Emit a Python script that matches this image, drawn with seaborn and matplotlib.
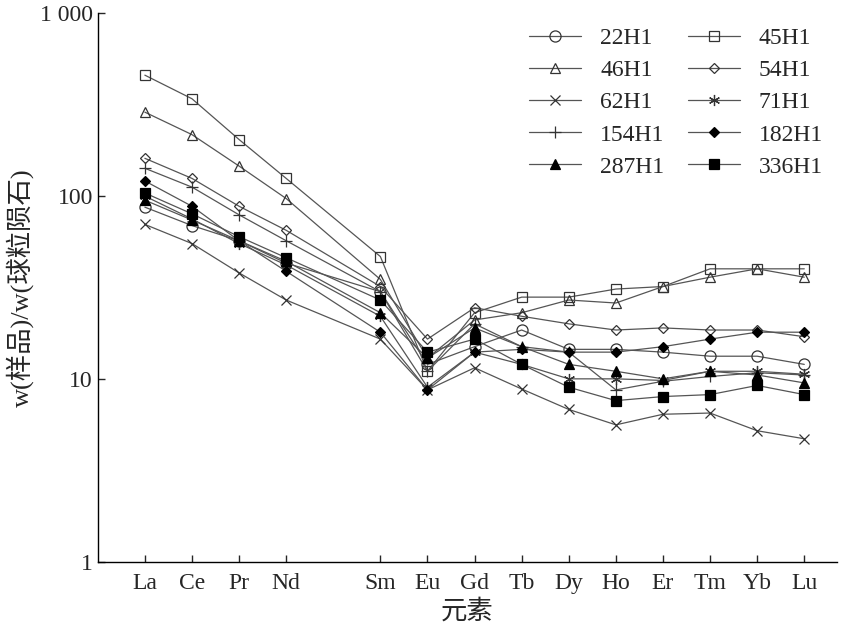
import matplotlib
matplotlib.use("Agg")
import matplotlib.pyplot as plt
import seaborn as sns
import pandas as pd
import numpy as np
from matplotlib.ticker import FixedLocator, NullLocator

sns.set_theme(style="ticks")
plt.rcParams['font.family'] = ['Liberation Serif', 'Noto Sans CJK SC']

elements = ["La", "Ce", "Pr", "Nd", "Sm", "Eu", "Gd", "Tb", "Dy", "Ho", "Er", "Tm", "Yb", "Lu"]
element_pos = [0, 1, 2, 3, 5, 6, 7, 8, 9, 10, 11, 12, 13, 14]

s22H1 = [87, 69, 57, 43, 30, 12, 15, 18.5, 14.5, 14.5, 14, 13.3, 13.3, 12]
s45H1 = [459, 341, 204, 125, 46.7, 11, 23, 28, 28, 31, 32, 40, 40, 40]
s46H1 = [288, 217, 146, 97, 35, 13, 21, 23, 27, 26, 32, 36, 40, 36]
s54H1 = [161, 125, 88, 65, 32, 16.5, 24.5, 22, 20, 18.5, 19, 18.5, 18.5, 17]
s62H1 = [70, 55, 38, 27, 16.5, 8.7, 11.5, 8.8, 6.8, 5.6, 6.4, 6.5, 5.2, 4.7]
s71H1 = [100, 75, 55, 42, 22, 9, 14, 12, 10, 10, 9.8, 11, 11, 10.6]
s154H1 = [142, 112, 79, 57, 30, 11, 20, 15, 14, 8.7, 9.7, 10.3, 10.8, 10.5]
s182H1 = [121, 88, 57, 38.8, 18, 8.7, 14, 14.5, 14, 14, 15, 16.5, 18, 18]
s287H1 = [95, 74, 57, 44, 23, 13, 19, 15, 12, 11, 10, 11, 10.5, 9.5]
s336H1 = [104, 80, 60, 46, 27, 14, 16.5, 12, 9, 7.6, 8, 8.2, 9.2, 8.2]

series = {"22H1": s22H1, "45H1": s45H1, "46H1": s46H1, "54H1": s54H1, "62H1": s62H1,
          "71H1": s71H1, "154H1": s154H1, "182H1": s182H1, "287H1": s287H1, "336H1": s336H1}
styles = {"22H1": ("o", "none", 8), "45H1": ("s", "none", 7), "46H1": ("^", "none", 7),
          "54H1": ("D", "none", 5), "62H1": ("x", "none", 7), "71H1": ((6, 2, 0), "none", 8),
          "154H1": ("+", "none", 8), "182H1": ("D", "black", 5), "287H1": ("^", "black", 7),
          "336H1": ("s", "black", 7)}

rows = []
for name, vals in series.items():
    for p, e, v in zip(element_pos, elements, vals):
        rows.append({"sample": name, "pos": p, "element": e, "value": v})
df = pd.DataFrame(rows)

fig = plt.figure(figsize=(8.5, 6.36), dpi=100)
ax = fig.add_axes([0.115, 0.117, 0.87, 0.862])
for name in series:
    m, fc, ms = styles[name]
    d = df[df["sample"] == name]
    sns.lineplot(data=d, x="pos", y="value", ax=ax, color="#555555", lw=0.9,
                 marker=m, markersize=ms,
                 markeredgecolor="#333333" if fc == "none" else "black",
                 markeredgewidth=0.9, label=name)
    ax.lines[-1].set_markerfacecolor(fc)

ax.set_yscale("log")
ax.set_ylim(1, 1000)
ax.set_xlim(-1.0, 14.7)
ax.yaxis.set_major_locator(FixedLocator([1, 10, 100, 1000]))
ax.yaxis.set_minor_locator(NullLocator())
ax.set_yticklabels(["1", "10", "100", "1 000"])
ax.set_xticks(element_pos)
ax.set_xticklabels(elements)
ax.tick_params(direction="in", labelsize=17, length=5, width=1)
ax.tick_params(axis="x", pad=8)
for s in ["top", "right"]:
    ax.spines[s].set_visible(False)
for s in ["left", "bottom"]:
    ax.spines[s].set_linewidth(1.0)
    ax.spines[s].set_color("black")
ax.set_xlabel("元素", fontsize=19)
ax.set_ylabel("w(样品)/w(球粒陨石)", fontsize=19)
h, l = ax.get_legend_handles_labels()
order = ["22H1", "46H1", "62H1", "154H1", "287H1", "45H1", "54H1", "71H1", "182H1", "336H1"]
hh = [h[l.index(o)] for o in order]
ax.legend(hh, order, ncol=2, frameon=False, fontsize=17, loc="upper right",
          bbox_to_anchor=(1.0, 1.0), columnspacing=1.0, handlelength=2.2,
          labelspacing=0.45, borderaxespad=0.2)
fig.savefig("out.png", dpi=100)
